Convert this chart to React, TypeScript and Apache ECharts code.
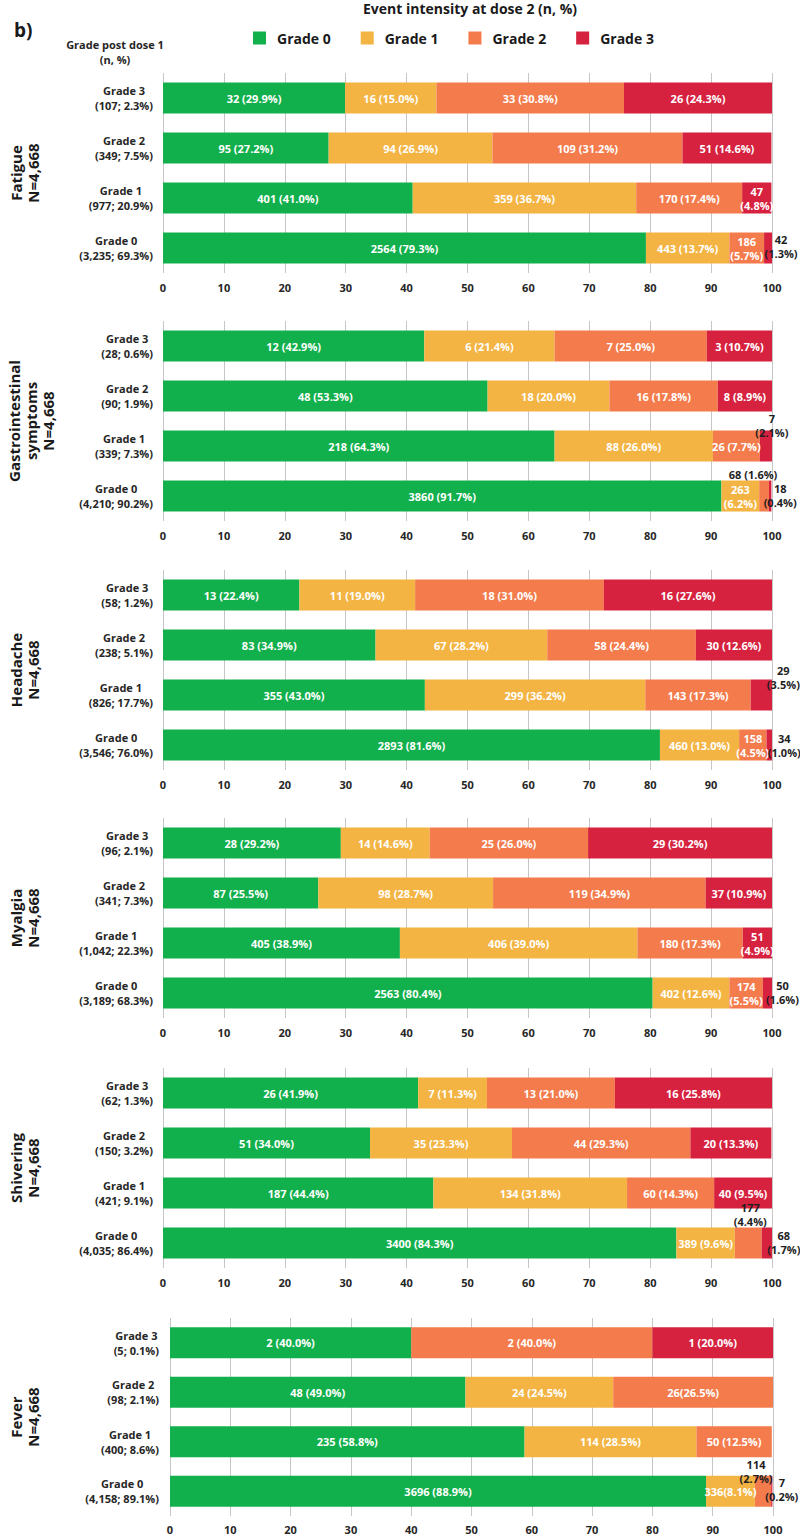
import React, { useEffect, useRef } from "react";
import * as echarts from "echarts";

const FONT = "'Open Sans', sans-serif";
const DARK = "#1e1e1e";

const grades = ["Grade 0", "Grade 1", "Grade 2", "Grade 3"];
const gradeColors = ["#12B04C", "#F3B443", "#F47B4C", "#D6213F"];

const panelTitles = [
  "Fatigue\nN=4,668",
  "Gastrointestinal\nsymptoms\nN=4,668",
  "Headache\nN=4,668",
  "Myalgia\nN=4,668",
  "Shivering\nN=4,668",
  "Fever\nN=4,668",
];

// Dose-1 group labels, rows Grade 0..3
const fatigueDose1 = ["(3,235; 69.3%)", "(977; 20.9%)", "(349; 7.5%)", "(107; 2.3%)"];
const gastroDose1 = ["(4,210; 90.2%)", "(339; 7.3%)", "(90; 1.9%)", "(28; 0.6%)"];
const headacheDose1 = ["(3,546; 76.0%)", "(826; 17.7%)", "(238; 5.1%)", "(58; 1.2%)"];
const myalgiaDose1 = ["(3,189; 68.3%)", "(1,042; 22.3%)", "(341; 7.3%)", "(96; 2.1%)"];
const shiveringDose1 = ["(4,035; 86.4%)", "(421; 9.1%)", "(150; 3.2%)", "(62; 1.3%)"];
const feverDose1 = ["(4,158; 89.1%)", "(400; 8.6%)", "(98; 2.1%)", "(5; 0.1%)"];

// Counts at dose 2 [row = dose-1 grade 0..3][dose-2 grade 0..3]
const fatigueN = [[2564, 443, 186, 42], [401, 359, 170, 47], [95, 94, 109, 51], [32, 16, 33, 26]];
const fatiguePct = [[79.3, 13.7, 5.7, 1.3], [41.0, 36.7, 17.4, 4.8], [27.2, 26.9, 31.2, 14.6], [29.9, 15.0, 30.8, 24.3]];

const gastroN = [[3860, 263, 68, 18], [218, 88, 26, 7], [48, 18, 16, 8], [12, 6, 7, 3]];
const gastroPct = [[91.7, 6.2, 1.6, 0.4], [64.3, 26.0, 7.7, 2.1], [53.3, 20.0, 17.8, 8.9], [42.9, 21.4, 25.0, 10.7]];

const headacheN = [[2893, 460, 158, 34], [355, 299, 143, 29], [83, 67, 58, 30], [13, 11, 18, 16]];
const headachePct = [[81.6, 13.0, 4.5, 1.0], [43.0, 36.2, 17.3, 3.5], [34.9, 28.2, 24.4, 12.6], [22.4, 19.0, 31.0, 27.6]];

const myalgiaN = [[2563, 402, 174, 50], [405, 406, 180, 51], [87, 98, 119, 37], [28, 14, 25, 29]];
const myalgiaPct = [[80.4, 12.6, 5.5, 1.6], [38.9, 39.0, 17.3, 4.9], [25.5, 28.7, 34.9, 10.9], [29.2, 14.6, 26.0, 30.2]];

const shiveringN = [[3400, 389, 177, 68], [187, 134, 60, 40], [51, 35, 44, 20], [26, 7, 13, 16]];
const shiveringPct = [[84.3, 9.6, 4.4, 1.7], [44.4, 31.8, 14.3, 9.5], [34.0, 23.3, 29.3, 13.3], [41.9, 11.3, 21.0, 25.8]];

const feverN = [[3696, 336, 114, 7], [235, 114, 50, 0], [48, 24, 26, 0], [2, 0, 2, 1]];
const feverPct = [[88.9, 8.1, 2.7, 0.2], [58.8, 28.5, 12.5, 0], [49.0, 24.5, 26.5, 0], [40.0, 0, 40.0, 20.0]];

const panels = [
  { dose1: fatigueDose1, n: fatigueN, pct: fatiguePct },
  { dose1: gastroDose1, n: gastroN, pct: gastroPct },
  { dose1: headacheDose1, n: headacheN, pct: headachePct },
  { dose1: myalgiaDose1, n: myalgiaN, pct: myalgiaPct },
  { dose1: shiveringDose1, n: shiveringN, pct: shiveringPct },
  { dose1: feverDose1, n: feverN, pct: feverPct },
];

// Layout (styles / positions)
const gridTops = [73, 321, 570, 818, 1068, 1318];
const gridHeights = [200, 200, 200, 200, 200, 198];
const gridLefts = [163, 163, 163, 163, 163, 170];
const gridRights = [28, 28, 28, 28, 28, 27];
const xLabelMargins = [9, 9, 9, 9, 9, 8];

// label tweaks: key "panel-row-grade"
type Tweak = { two?: boolean; dark?: boolean; offset?: number[]; nospace?: boolean };
const tweaks: Record<string, Tweak> = {
  "0-1-3": { two: true },
  "0-0-2": { two: true },
  "0-0-3": { two: true, dark: true, offset: [13, -2] },
  "1-1-3": { two: true, dark: true, offset: [6, -21] },
  "1-0-1": { two: true },
  "1-0-2": { dark: true, offset: [-11, -22] },
  "1-0-3": { two: true, dark: true, offset: [10, -1] },
  "2-1-3": { two: true, dark: true, offset: [22, -18] },
  "2-0-2": { two: true },
  "2-0-3": { two: true, dark: true, offset: [15, 0] },
  "3-1-3": { two: true },
  "3-0-2": { two: true },
  "3-0-3": { two: true, dark: true, offset: [15, -1] },
  "4-0-2": { two: true, dark: true, offset: [2, -29] },
  "4-0-3": { two: true, dark: true, offset: [17, -1] },
  "5-2-2": { nospace: true },
  "5-0-1": { nospace: true },
  "5-0-2": { two: true, dark: true, offset: [-7, -20] },
  "5-0-3": { two: true, dark: true, offset: [10, -2] },
};

function buildOption() {
  const grid: any[] = [];
  const xAxis: any[] = [];
  const yAxis: any[] = [];
  const series: any[] = [];
  const graphic: any[] = [];

  panels.forEach((p, i) => {
    grid.push({ left: gridLefts[i], right: gridRights[i], top: gridTops[i], height: gridHeights[i], containLabel: false });
    xAxis.push({
      type: "value",
      gridIndex: i,
      min: 0,
      max: 100,
      interval: 10,
      axisLine: { show: false },
      axisTick: { show: false },
      splitLine: { show: true, lineStyle: { color: "#c6c6c6", width: 1 } },
      axisLabel: { color: "#262626", fontFamily: FONT, fontWeight: "bold", fontSize: 11, margin: xLabelMargins[i] },
    });
    yAxis.push({
      type: "category",
      gridIndex: i,
      data: grades,
      axisLine: { show: false },
      axisTick: { show: false },
      splitLine: { show: false },
      axisLabel: {
        align: "right",
        margin: i === 5 ? 11 : 10,
        formatter: (v: string, idx: number) => `{a|${v}}\n{a|${p.dose1[idx]}}`,
        rich: {
          a: { align: "center", fontFamily: FONT, fontWeight: "bold", fontSize: 11, lineHeight: 15, color: "#262626" },
        },
      },
    });

    grades.forEach((g, gi) => {
      series.push({
        type: "bar",
        name: g,
        stack: "s" + i,
        xAxisIndex: i,
        yAxisIndex: i,
        barWidth: 31,
        itemStyle: { color: gradeColors[gi] },
        data: p.pct.map((row, ri) => {
          const t = tweaks[`${i}-${ri}-${gi}`] || {};
          const n = p.n[ri][gi];
          const v = row[gi];
          const sep = t.two ? "\n" : t.nospace ? "" : " ";
          const text = n === 0 ? "" : `${n}${sep}(${v.toFixed(1)}%)`;
          return {
            value: v,
            label: {
              show: n !== 0,
              position: "inside",
              formatter: text,
              color: t.dark ? DARK : "#ffffff",
              offset: t.offset || [0, 0],
              lineHeight: 14,
            },
          };
        }),
        label: { fontFamily: FONT, fontWeight: "bold", fontSize: 11 },
        emphasis: { disabled: true },
      });
    });

    const lines = panelTitles[i].split("\n").length;
    graphic.push({
      type: "text",
      x: lines === 3 ? 31 : 24,
      y: gridTops[i] + gridHeights[i] / 2,
      rotation: Math.PI / 2,
      style: {
        text: panelTitles[i],
        fontFamily: FONT,
        fontWeight: "bold",
        fontSize: 15,
        lineHeight: 17,
        fill: "#1a1a1a",
        align: "center",
        verticalAlign: "middle",
      },
    });
  });

  graphic.push(
    {
      type: "text",
      x: 470,
      y: 8,
      style: {
        text: "Event intensity at dose 2 (n, %)",
        fontFamily: FONT,
        fontWeight: "bold",
        fontSize: 14,
        fill: "#1a1a1a",
        align: "center",
        verticalAlign: "middle",
      },
    },
    {
      type: "text",
      x: 14,
      y: 30,
      style: { text: "b)", fontFamily: FONT, fontWeight: "bold", fontSize: 19, fill: "#1a1a1a", align: "left", verticalAlign: "middle" },
    },
    {
      type: "text",
      x: 115,
      y: 52,
      style: {
        text: "Grade post dose 1\n(n, %)",
        fontFamily: FONT,
        fontWeight: "bold",
        fontSize: 11,
        lineHeight: 15,
        fill: "#262626",
        align: "center",
        verticalAlign: "middle",
      },
    }
  );

  return {
    animation: false,
    backgroundColor: "#ffffff",
    legend: {
      data: grades,
      left: 248,
      top: 26,
      icon: "rect",
      itemWidth: 13,
      itemHeight: 13,
      itemGap: 30,
      selectedMode: false,
      textStyle: { fontFamily: FONT, fontWeight: "bold", fontSize: 14, color: "#1a1a1a", padding: [0, 0, 0, 6] },
    },
    grid,
    xAxis,
    yAxis,
    series,
    graphic,
  };
}

export default function App() {
  const ref = useRef<HTMLDivElement>(null);
  useEffect(() => {
    if (!ref.current) return;
    const chart = echarts.init(ref.current, undefined, { renderer: "svg" });
    chart.setOption(buildOption() as any);
    return () => chart.dispose();
  }, []);
  return <div ref={ref} style={{ position: "absolute", left: 0, top: 0, width: 800, height: 1537 }} />;
}
